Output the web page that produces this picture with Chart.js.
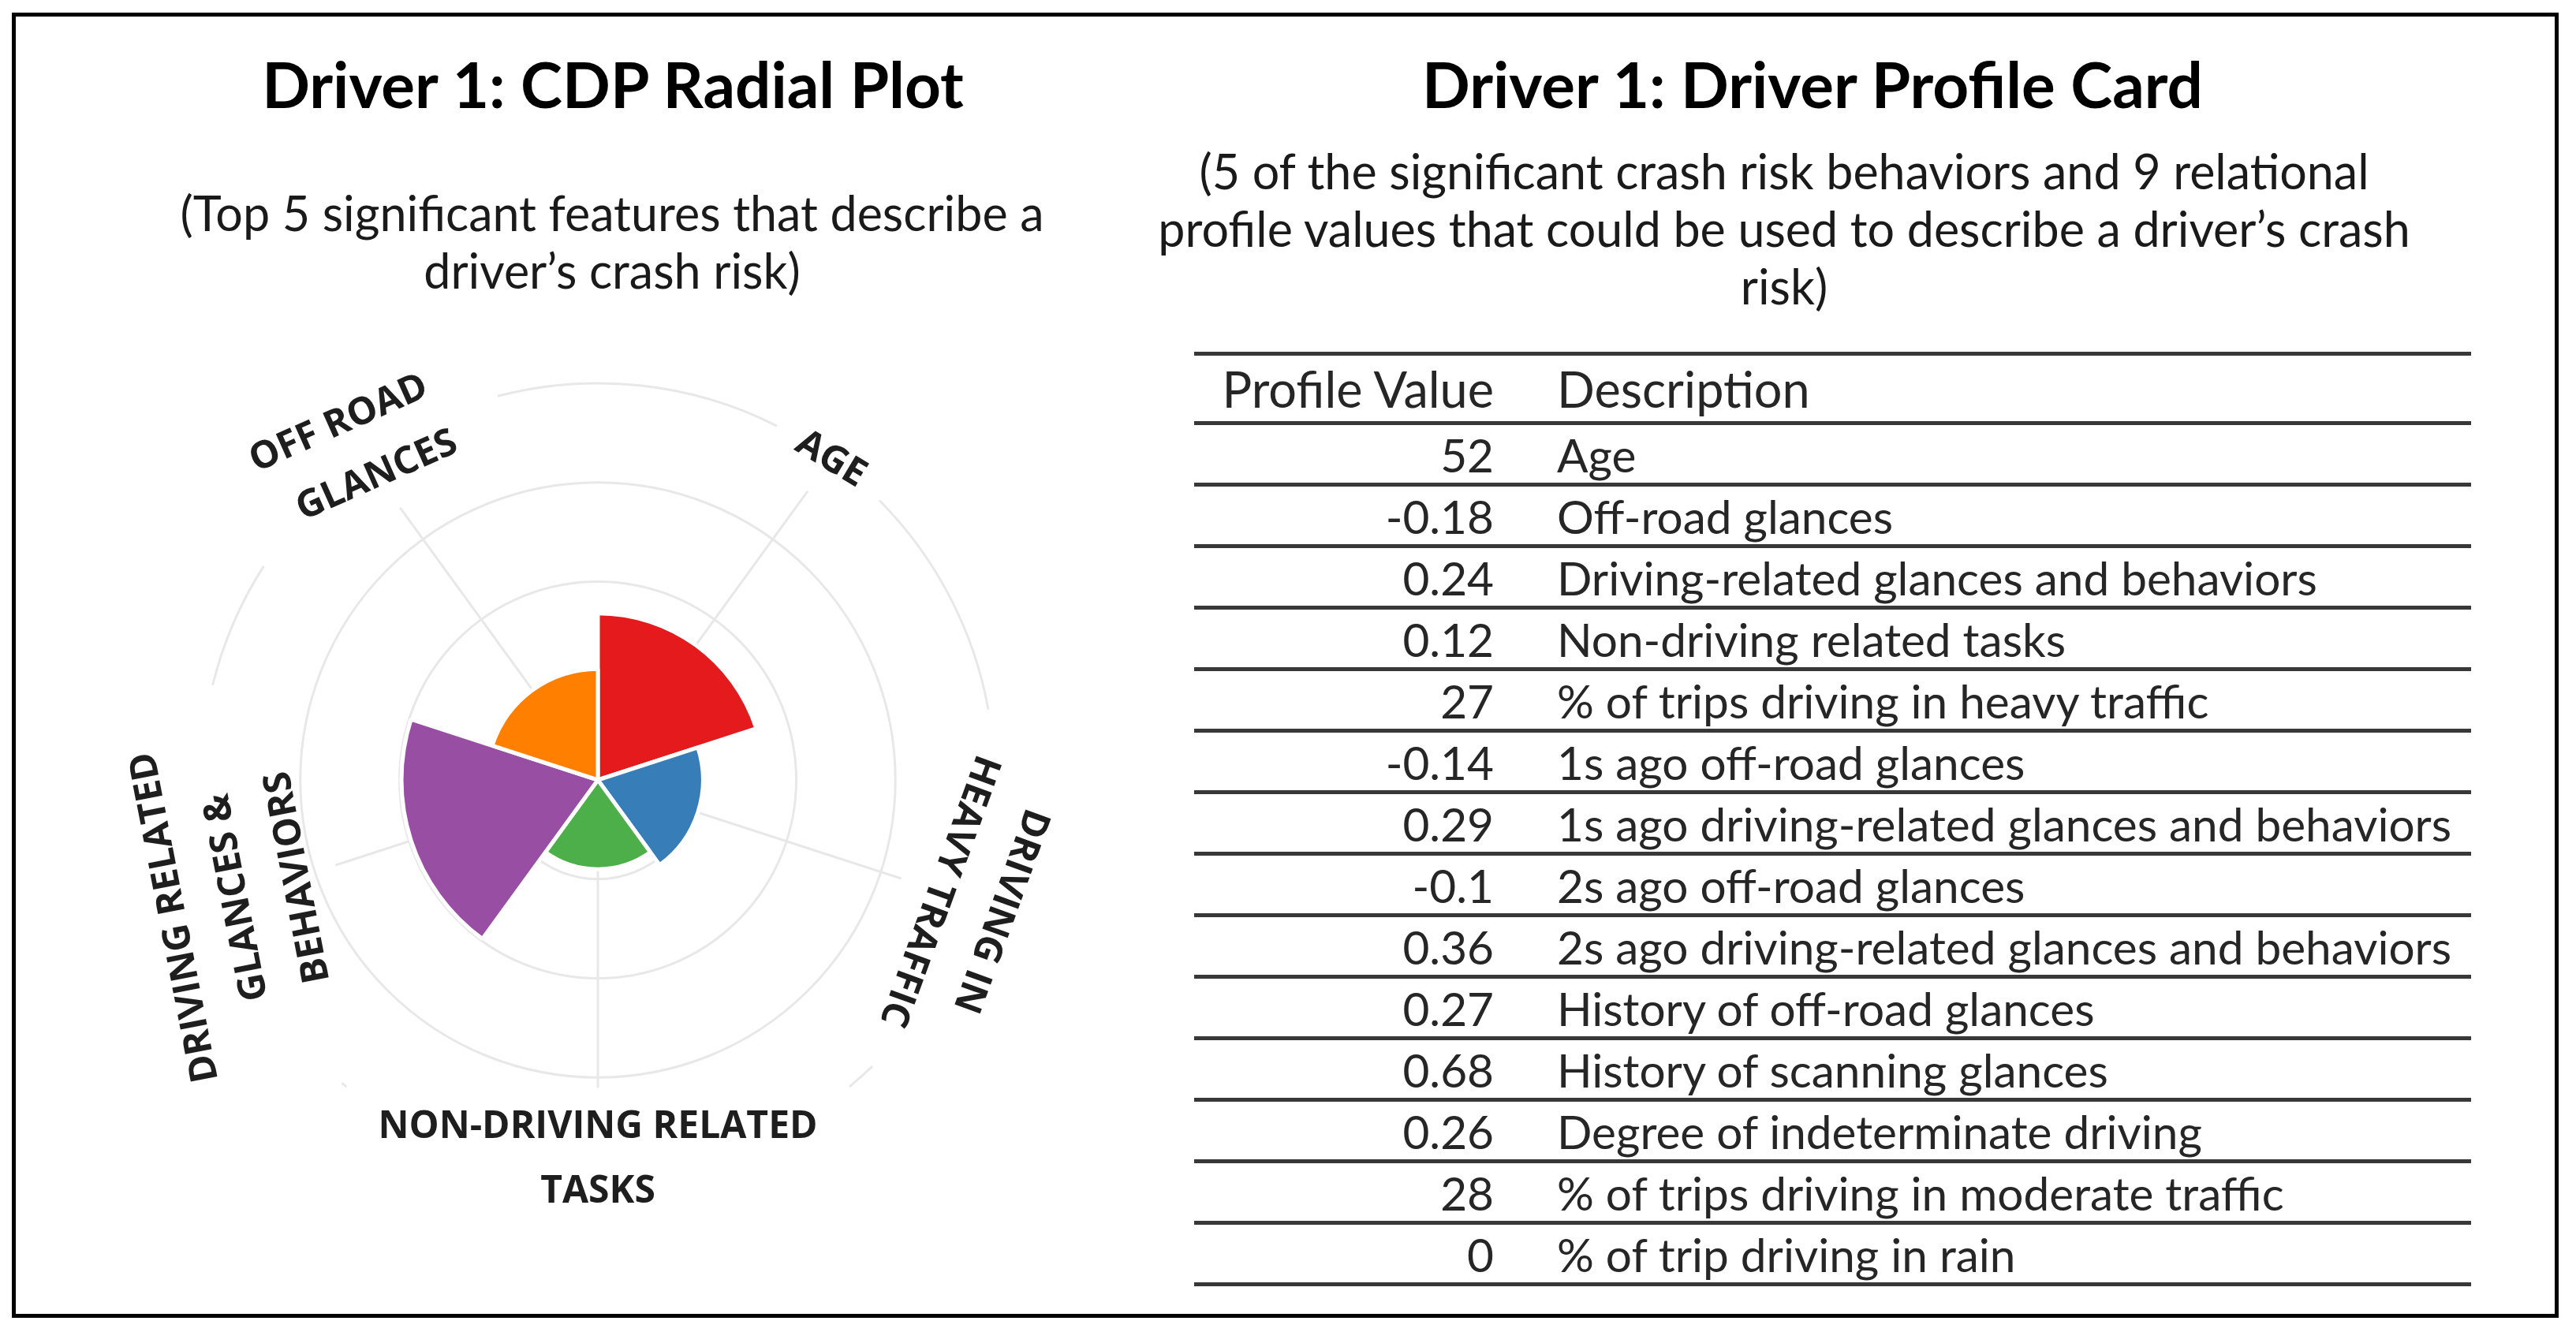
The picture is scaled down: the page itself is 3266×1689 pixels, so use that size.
<!DOCTYPE html>
<html>
<head>
<meta charset="utf-8">
<title>Driver 1: CDP Radial Plot and Driver Profile Card</title>
<script src="https://cdn.jsdelivr.net/npm/chart.js@4.4.1/dist/chart.umd.min.js"></script>
<style>
  html, body { margin: 0; padding: 0; background: #fff; }
  body { width: 3266px; height: 1689px; position: relative; overflow: hidden; font-family: Lato, "Open Sans", sans-serif; color: #111; }
  .frame { position: absolute; left: 15px; top: 16px; width: 3229px; height: 1655px; border: 5px solid #000; box-sizing: border-box; }
  .title { position: absolute; font-weight: 700; font-size: 80px; line-height: 100px; text-align: center; white-space: nowrap; color: #000; }
  .subtitle { position: absolute; font-size: 61px; line-height: 73px; text-align: center; white-space: nowrap; color: #1a1a1a; }
  #radialBox { position: absolute; left: 138px; top: 369px; width: 1240px; height: 1240px; }
  #profileTable { position: absolute; left: 1514px; top: 446px; width: 1619px; font-size: 58.5px; color: #262626; }
  .row { display: flex; align-items: center; height: 78px; box-sizing: border-box; border-bottom: 5px solid #383838; }
  .row.head { height: 93px; border-top: 5px solid #383838; font-size: 63px; }
  .val { width: 380px; text-align: right; white-space: nowrap; }
  .desc { padding-left: 80px; white-space: nowrap; }
</style>
</head>
<body>
<div class="frame"></div>

<div class="title" style="left:0; top:56px; width:1554px;">Driver 1: CDP Radial Plot</div>
<div class="subtitle" style="left:0; top:233px; width:1552px;">(Top 5 significant features that describe a<br>driver’s crash risk)</div>

<div class="title" style="left:1698px; top:56px; width:1200px;">Driver 1: Driver Profile Card</div>
<div class="subtitle" style="left:1362px; top:180px; width:1800px;">(5 of the significant crash risk behaviors and 9 relational<br>profile values that could be used to describe a driver’s crash<br>risk)</div>

<div id="radialBox"><canvas id="radialChart"></canvas></div>
<div id="profileTable"></div>

<script>
// radial plot: clockwise from the top
const categoryLines = [
    ["AGE"],
    ["DRIVING IN", "HEAVY TRAFFIC"],
    ["NON-DRIVING RELATED", "TASKS"],
    ["DRIVING RELATED", "GLANCES &", "BEHAVIORS"],
    ["OFF ROAD", "GLANCES"]
];
const featureValues = [0.42, 0.265, 0.225, 0.495, 0.28];
const sectorColors = ["#e41a1c", "#377eb8", "#4daf4a", "#984ea3", "#ff7f00"];
const radialMax = 1;
const radialStep = 0.25;

// profile card
const tableHeader = ["Profile Value", "Description"];
const profileValues = ["52", "-0.18", "0.24", "0.12", "27", "-0.14", "0.29", "-0.1", "0.36", "0.27", "0.68", "0.26", "28", "0"];
const profileDescriptions = [
    "Age",
    "Off-road glances",
    "Driving-related glances and behaviors",
    "Non-driving related tasks",
    "% of trips driving in heavy traffic",
    "1s ago off-road glances",
    "1s ago driving-related glances and behaviors",
    "2s ago off-road glances",
    "2s ago driving-related glances and behaviors",
    "History of off-road glances",
    "History of scanning glances",
    "Degree of indeterminate driving",
    "% of trips driving in moderate traffic",
    "% of trip driving in rain"
];

const gridColor = "#e8e8e8";
const labelFont = "bold 48px 'Open Sans'";
const labelSpacing = 82;
const labelTilt = [-5, 2, 0, 7, 12];    // degrees, extra twist of each label
const labelNudge = [7, 0, -14, 0, 22];  // px, pushes a label in or out

// build the table
const table = document.getElementById("profileTable");
function addRow(a, b, cls) {
    const row = document.createElement("div");
    row.className = cls;
    const v = document.createElement("div");
    v.className = "val";
    v.textContent = a;
    const d = document.createElement("div");
    d.className = "desc";
    d.textContent = b;
    row.appendChild(v);
    row.appendChild(d);
    table.appendChild(row);
}
addRow(tableHeader[0], tableHeader[1], "row head");
profileValues.forEach((v, i) => addRow(v, profileDescriptions[i], "row"));

// angle (clockwise from 12 o'clock) of the middle of sector i
function sectorMid(scale, i, n) {
    return scale.getIndexAngle(i) + Math.PI / n;
}

function lineRadii(R, lines, angle, i) {
    const flip = Math.cos(angle) < -0.7;
    const k = lines.length;
    const rc = R * 0.985 - Math.max(0, k - 2) * 14 + labelNudge[i];
    return lines.map((_, j) => {
        const off = ((k - 1) / 2 - j) * labelSpacing;
        return flip ? rc - off : rc + off;
    });
}

const radialDecor = {
    id: "radialDecor",
    beforeDatasetsDraw(chart) {
        const scale = chart.scales.r;
        const ctx = chart.ctx;
        const labels = chart.data.labels;
        const n = labels.length;
        const cx = scale.xCenter, cy = scale.yCenter;
        const R = scale.getDistanceFromCenterForValue(scale.max);

        ctx.save();
        ctx.strokeStyle = gridColor;
        ctx.lineWidth = 3;
        ctx.font = labelFont;

        // spokes through the middle of each sector, stopping short of the label
        const gaps = [];
        labels.forEach((lines, i) => {
            const a = sectorMid(scale, i, n);
            const radii = lineRadii(R, lines, a, i);
            const end = Math.min(...radii) - 50;
            ctx.beginPath();
            ctx.moveTo(cx, cy);
            ctx.lineTo(cx + end * Math.sin(a), cy - end * Math.cos(a));
            ctx.stroke();
            const w = Math.max(...lines.map(l => ctx.measureText(l).width));
            const pad = Math.min(lines.length, 2) * 3.8 * Math.PI / 180;
            gaps.push([a, w / 2 / R + pad]);
        });

        // outer ring, broken where the labels sit
        for (let i = 0; i < n; i++) {
            const [a1, h1] = gaps[i];
            let [a2, h2] = gaps[(i + 1) % n];
            if (a2 < a1) a2 += 2 * Math.PI;
            const s = a1 + h1, e = a2 - h2;
            if (e > s) {
                ctx.beginPath();
                ctx.arc(cx, cy, R, s - Math.PI / 2, e - Math.PI / 2);
                ctx.stroke();
            }
        }
        ctx.restore();
    },
    afterDatasetsDraw(chart) {
        const scale = chart.scales.r;
        const ctx = chart.ctx;
        const labels = chart.data.labels;
        const n = labels.length;
        const cx = scale.xCenter, cy = scale.yCenter;
        const R = scale.getDistanceFromCenterForValue(scale.max);

        ctx.save();
        ctx.font = labelFont;
        ctx.fillStyle = "#1e1e1e";
        ctx.textAlign = "center";
        ctx.textBaseline = "middle";
        labels.forEach((lines, i) => {
            const a = sectorMid(scale, i, n);
            const flip = Math.cos(a) < -0.7;
            const radii = lineRadii(R, lines, a, i);
            const rot = (flip ? a - Math.PI : a) + labelTilt[i] * Math.PI / 180;
            lines.forEach((line, j) => {
                ctx.save();
                ctx.translate(cx + radii[j] * Math.sin(a), cy - radii[j] * Math.cos(a));
                ctx.rotate(rot);
                ctx.fillText(line, 0, 0);
                ctx.restore();
            });
        });
        ctx.restore();
    }
};

new Chart(document.getElementById("radialChart"), {
    type: "polarArea",
    data: {
        labels: categoryLines,
        datasets: [{
            data: featureValues,
            backgroundColor: sectorColors,
            borderColor: "#ffffff",
            borderWidth: 5
        }]
    },
    options: {
        responsive: true,
        maintainAspectRatio: false,
        animation: false,
        layout: { padding: 117 },
        plugins: {
            legend: { display: false },
            tooltip: { enabled: false }
        },
        scales: {
            r: {
                min: 0,
                max: radialMax,
                ticks: { display: false, stepSize: radialStep },
                grid: {
                    lineWidth: 3,
                    color: (c) => (c.tick && c.tick.value >= radialMax) ? "rgba(0,0,0,0)" : gridColor
                },
                angleLines: { display: false },
                pointLabels: { display: false }
            }
        }
    },
    plugins: [radialDecor]
});
</script>
</body>
</html>
